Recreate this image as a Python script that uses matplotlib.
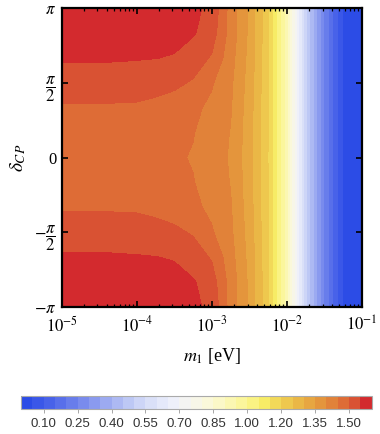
import numpy as np
import matplotlib.pyplot as plt
from matplotlib.colors import ListedColormap, BoundaryNorm

plt.rcParams["font.family"] = ["Liberation Serif", "DejaVu Serif"]
plt.rcParams["mathtext.fontset"] = "stix"

# grid: log10(m1 / eV) columns, delta_CP rows (units of pi, 0..pi)
log_m1 = [-5.0, -4.5, -4.0, -3.75, -3.5, -3.25, -3.0, -2.75, -2.5, -2.25, -2.0, -1.75, -1.5, -1.25, -1.0]
delta_frac = [0.0, 1 / 6, 1 / 3, 1 / 2, 2 / 3, 5 / 6, 1.0]

row_0 = [1.414, 1.414, 1.413, 1.411, 1.406, 1.397, 1.375, 1.345, 1.270, 1.150, 0.920, 0.520, 0.250, 0.045, 0.010]
row_pi6 = [1.422, 1.422, 1.421, 1.418, 1.412, 1.402, 1.380, 1.348, 1.272, 1.152, 0.920, 0.520, 0.250, 0.045, 0.010]
row_pi3 = [1.445, 1.445, 1.443, 1.437, 1.428, 1.410, 1.390, 1.355, 1.275, 1.153, 0.920, 0.520, 0.250, 0.045, 0.010]
row_pi2 = [1.476, 1.476, 1.474, 1.468, 1.460, 1.445, 1.405, 1.360, 1.280, 1.155, 0.920, 0.520, 0.250, 0.045, 0.010]
row_2pi3 = [1.506, 1.506, 1.503, 1.501, 1.497, 1.475, 1.445, 1.370, 1.285, 1.158, 0.920, 0.520, 0.250, 0.045, 0.010]
row_5pi6 = [1.529, 1.529, 1.527, 1.522, 1.514, 1.505, 1.475, 1.380, 1.290, 1.160, 0.920, 0.520, 0.250, 0.045, 0.010]
row_pi = [1.537, 1.537, 1.535, 1.530, 1.520, 1.509, 1.490, 1.380, 1.290, 1.160, 0.920, 0.520, 0.250, 0.045, 0.010]

levels = np.arange(0.0, 1.5501, 0.05)
cbar_labels = ["0.10", "0.25", "0.40", "0.55", "0.70", "0.85", "1.00", "1.20", "1.35", "1.50"]

bin_colors = [
    "#2c4ce6", "#3a57e8", "#4862e9", "#586fea", "#687deb", "#798bed", "#8a9aef",
    "#9caaf1", "#adb9f3", "#bdc8f5", "#cdd5f7", "#dae0f8", "#e5e9fa", "#eef0fa",
    "#f4f4f2", "#f7f6e8", "#faf8da", "#fbf8c8", "#fbf7b2", "#fbf69c", "#faf383",
    "#f7ec66", "#f2d959", "#eec84e", "#eab746", "#e7a641", "#e4953c", "#e18239",
    "#de6c36", "#d95233", "#d32a2e",
]

# mirror the half table to cover -pi..pi
z_half = np.array([row_0, row_pi6, row_pi3, row_pi2, row_2pi3, row_5pi6, row_pi])
z = np.vstack([z_half[:0:-1], z_half])
delta = np.pi * np.concatenate([-np.array(delta_frac[:0:-1]), delta_frac])

cmap = ListedColormap(bin_colors)
norm = BoundaryNorm(levels, cmap.N)

fig = plt.figure(figsize=(3.8, 4.34), dpi=100)
ax = fig.add_axes([0.1624, 0.2926, 0.7895, 0.6889])

cs = ax.contourf(log_m1, delta, z, levels=levels, cmap=cmap, norm=norm)

ax.set_xlim(-5, -1)
ax.set_ylim(-np.pi, np.pi)

ax.set_xticks([-5, -4, -3, -2, -1])
ax.set_xticklabels([r"$10^{-5}$", r"$10^{-4}$", r"$10^{-3}$", r"$10^{-2}$", r"$10^{-1}$"])
ax.set_xticks([np.log10(k) + n for n in range(-5, -1) for k in range(2, 10)], minor=True)

ax.set_yticks([-np.pi, -np.pi / 2, 0, np.pi / 2, np.pi])
ax.set_yticklabels([r"$-\pi$", r"$-\dfrac{\pi}{2}$", "0", r"$\dfrac{\pi}{2}$", r"$\pi$"])

ax.tick_params(which="both", direction="in", top=True, right=True, labelsize=12)
ax.tick_params(which="major", length=4, width=1.2)
ax.tick_params(which="minor", length=2.5, width=0.9)
ax.tick_params(axis="x", which="major", pad=6)
ax.tick_params(axis="y", which="major", pad=4)
for sp in ax.spines.values():
    sp.set_linewidth(1.6)

ax.set_xlabel(r"$m_1$ [eV]", fontsize=13, labelpad=8)
ax.set_ylabel(r"$\delta_{CP}$", fontsize=14, labelpad=4)

# colorbar
cax = fig.add_axes([0.0553, 0.0569, 0.9229, 0.0306])
cb = fig.colorbar(cs, cax=cax, orientation="horizontal")
cb.set_ticks(levels[2::3])
cb.set_ticklabels(cbar_labels)
cax.minorticks_off()
cax.tick_params(labelsize=9.5, labelcolor="#333333", color="#999999", length=3, width=0.6, pad=3)
for lab in cax.get_xticklabels():
    lab.set_family("Liberation Sans")
cb.outline.set_edgecolor("#aaaaaa")
cb.outline.set_linewidth(0.8)

fig.savefig("out.png", dpi=100)
